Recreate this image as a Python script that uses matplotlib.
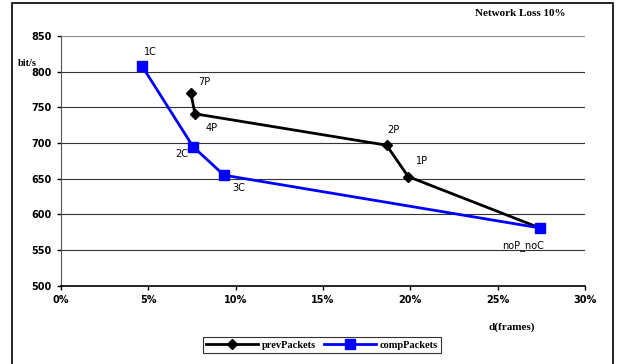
import matplotlib
matplotlib.use("Agg")
import matplotlib.pyplot as plt
from matplotlib.patches import Rectangle
from matplotlib.ticker import FuncFormatter

# prevPackets series
prev_x = [7.44, 7.67, 18.64, 19.88, 27.42]
prev_y = [770, 741, 697, 653, 581]
prev_labels = ["7P", "4P", "2P", "1P", ""]

# compPackets series
comp_x = [4.64, 7.56, 9.33, 27.42]
comp_y = [808, 695, 655, 581]
comp_labels = ["1C", "2C", "3C", "noP_noC"]

fig = plt.figure(figsize=(6.19, 3.64), dpi=100)
ax = fig.add_axes([0.0985, 0.215, 0.8465, 0.686])

# outer frame
fig.patches.append(Rectangle((0.019, -0.02), 0.971, 1.012, transform=fig.transFigure,
                             fill=False, edgecolor="black", linewidth=1.2))

ax.plot(prev_x, prev_y, color="black", linewidth=2, marker="D", markersize=5.5,
        label="prevPackets", zorder=3)
ax.plot(comp_x, comp_y, color="blue", linewidth=2, marker="s", markersize=7.5,
        label="compPackets", zorder=4)

# point labels (offsets in points)
prev_off = [(10, 8), (12, -10), (5, 11), (10, 11), (0, 0)]
comp_off = [(6, 10), (-8, -5), (11, -9), (-12, -13)]
for x, y, t, o in zip(prev_x, prev_y, prev_labels, prev_off):
    if t:
        ax.annotate(t, (x, y), xytext=o, textcoords="offset points",
                    fontsize=7, ha="center", va="center")
for x, y, t, o in zip(comp_x, comp_y, comp_labels, comp_off):
    ax.annotate(t, (x, y), xytext=o, textcoords="offset points",
                fontsize=7, ha="center", va="center")

ax.set_xlim(0, 30)
ax.set_ylim(500, 850)
ax.set_xticks([0, 5, 10, 15, 20, 25, 30])
ax.set_yticks(range(500, 851, 50))
ax.xaxis.set_major_formatter(FuncFormatter(lambda v, p: "%d%%" % v))
ax.tick_params(labelsize=7, length=3, width=1)
for lab in ax.get_xticklabels() + ax.get_yticklabels():
    lab.set_fontweight("bold")
ax.grid(axis="y", color="#333333", linewidth=0.8)
ax.get_ygridlines()[-1].set_color("#888888")
ax.set_axisbelow(True)
for s in ["top", "right"]:
    ax.spines[s].set_visible(False)
ax.spines["left"].set_color("#555555")
ax.spines["bottom"].set_linewidth(1.2)

fig.text(0.029, 0.826, "bit/s", fontsize=7.5, fontweight="bold", family="Liberation Serif",
         va="center")
fig.text(0.84, 0.962, "Network Loss 10%", fontsize=8, fontweight="bold",
         family="Liberation Serif", ha="center", va="center")
fig.text(0.826, 0.102, "d(frames)", fontsize=8, fontweight="bold",
         family="Liberation Serif", ha="center", va="center")

leg = fig.legend(loc="center", bbox_to_anchor=(0.52, 0.0515), ncol=2,
                 prop={"family": "Liberation Serif", "weight": "bold", "size": 7.5},
                 frameon=True, fancybox=False, edgecolor="black",
                 handlelength=5, columnspacing=0.8, handletextpad=0.3,
                 borderpad=0.3)
leg.get_frame().set_linewidth(0.8)

fig.savefig("out.png", dpi=100)
